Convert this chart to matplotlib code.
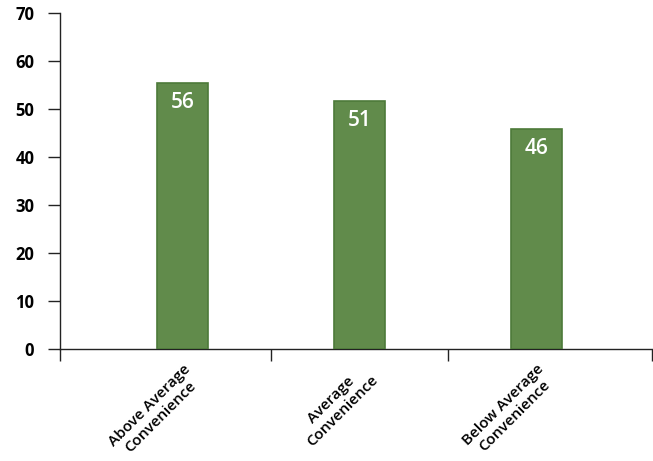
import matplotlib
matplotlib.use("Agg")
import matplotlib.pyplot as plt
import matplotlib.transforms as mtransforms
import numpy as np

categories = ["Above Average\nConvenience", "Average\nConvenience", "Below Average\nConvenience"]
values = [55.5, 51.8, 45.9]
labels = ["56", "51", "46"]
yticks = [0, 10, 20, 30, 40, 50, 60, 70]

W, H, DPI = 653, 461, 100
fig = plt.figure(figsize=(W / DPI, H / DPI), dpi=DPI)
fig.patch.set_facecolor("white")
ax = fig.add_axes([60 / W, 1 - 349 / H, (652 - 60) / W, (349 - 13.3) / H])

x = np.arange(len(categories))
bars = ax.bar(x, values, width=0.29, color="#618b4b", edgecolor="#4d7a3a", linewidth=1.2, zorder=3)

for xi, v, lab in zip(x, values, labels):
    ax.annotate(lab, (xi, v), xytext=(0, -20), textcoords="offset pixels",
                ha="center", va="center", color="white", fontsize=15, fontweight="semibold",
                family="Open Sans", zorder=4)

ax.set_xlim(-0.695, 2.655)
ax.set_ylim(0, 70)
ax.set_yticks(yticks)
ax.set_yticklabels([str(t) for t in yticks], fontsize=12, fontweight="bold", family="Open Sans")
ax.tick_params(axis="y", direction="out", length=8.5, width=1, color="#222222", pad=10)

ax.set_xticks([0.5, 1.5, 2.655])
ax.set_xticks([-0.695], minor=True)
ax.tick_params(axis="x", which="both", direction="out", length=8.5, width=1, color="#222222", labelbottom=False)

for xi, cat in zip(x, categories):
    t = ax.text(xi, 0, cat, rotation=45, rotation_mode="anchor", ha="right", va="top",
                fontsize=11, fontweight="semibold", family="Open Sans", multialignment="center",
                linespacing=1.15,
                transform=ax.transData + mtransforms.ScaledTranslation(0 / DPI, -13 / DPI, fig.dpi_scale_trans))

for s in ["top", "right"]:
    ax.spines[s].set_visible(False)
for s in ["left", "bottom"]:
    ax.spines[s].set_color("#222222")
    ax.spines[s].set_linewidth(1)

fig.savefig("out.png", dpi=DPI)
